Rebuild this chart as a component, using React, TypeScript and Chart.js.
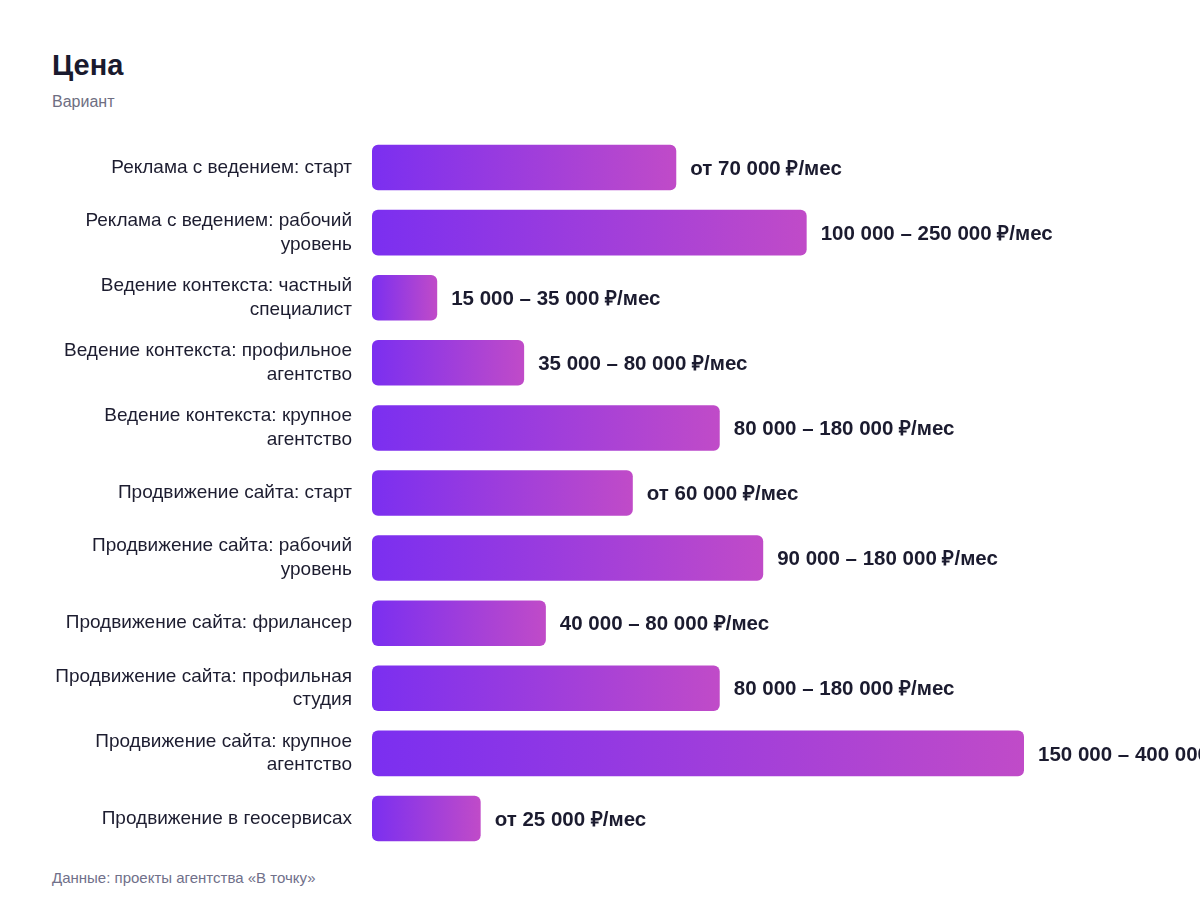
import React, { useEffect, useRef } from "react";
import { Chart, registerables } from "chart.js";

Chart.register(...registerables);

const categories: (string | string[])[] = [
  "Реклама с ведением: старт",
  ["Реклама с ведением: рабочий", "уровень"],
  ["Ведение контекста: частный", "специалист"],
  ["Ведение контекста: профильное", "агентство"],
  ["Ведение контекста: крупное", "агентство"],
  "Продвижение сайта: старт",
  ["Продвижение сайта: рабочий", "уровень"],
  "Продвижение сайта: фрилансер",
  ["Продвижение сайта: профильная", "студия"],
  ["Продвижение сайта: крупное", "агентство"],
  "Продвижение в геосервисах",
];

const values: number[] = [70000, 100000, 15000, 35000, 80000, 60000, 90000, 40000, 80000, 150000, 25000];

const valueLabels: string[] = [
  "от 70 000 ₽/мес",
  "100 000 – 250 000 ₽/мес",
  "15 000 – 35 000 ₽/мес",
  "35 000 – 80 000 ₽/мес",
  "80 000 – 180 000 ₽/мес",
  "от 60 000 ₽/мес",
  "90 000 – 180 000 ₽/мес",
  "40 000 – 80 000 ₽/мес",
  "80 000 – 180 000 ₽/мес",
  "150 000 – 400 000 ₽/мес",
  "от 25 000 ₽/мес",
];

const FONT = "'Liberation Sans', Arial, Helvetica, sans-serif";

const valueLabelPlugin = {
  id: "valueLabels",
  afterDatasetsDraw(chart: any) {
    const ctx = chart.ctx;
    const meta = chart.getDatasetMeta(0);
    ctx.save();
    ctx.font = `bold 20.5px ${FONT}`;
    ctx.fillStyle = "#1b1b2f";
    ctx.textAlign = "left";
    ctx.textBaseline = "middle";
    meta.data.forEach((bar: any, i: number) => {
      ctx.fillText(valueLabels[i], bar.x + 14, bar.y + 1.5);
    });
    ctx.restore();
  },
};

export default function App() {
  const ref = useRef<HTMLCanvasElement>(null);
  useEffect(() => {
    if (!ref.current) return;
    const chart = new Chart(ref.current, {
      type: "bar",
      data: {
        labels: categories,
        datasets: [
          {
            data: values,
            backgroundColor: (c: any) => {
              const ch = c.chart;
              const sx = ch.scales?.x;
              if (!sx || c.raw == null) return "#8a3ae6";
              const x0 = sx.getPixelForValue(0);
              const x1 = sx.getPixelForValue(c.raw);
              if (!isFinite(x0) || !isFinite(x1) || x1 <= x0) return "#8a3ae6";
              const g = ch.ctx.createLinearGradient(x0, 0, x1, 0);
              g.addColorStop(0, "#7b2ff0");
              g.addColorStop(1, "#c04bc8");
              return g;
            },
            borderRadius: 6,
            borderSkipped: false,
            barPercentage: 0.7,
            categoryPercentage: 1,
          },
        ],
      },
      options: {
        indexAxis: "y",
        animation: false,
        responsive: false,
        maintainAspectRatio: false,
        layout: { padding: { left: 0, right: 176, top: 0, bottom: 0 } },
        plugins: { legend: { display: false }, tooltip: { enabled: false } },
        scales: {
          x: { display: false, min: 0, max: 150000 },
          y: {
            grid: { display: false, drawTicks: false },
            border: { display: false },
            afterFit: (s: any) => {
              s.width = 372;
              s.paddingTop = 0;
              s.paddingBottom = 0;
            },
            ticks: {
              padding: 20,
              color: "#1d1d30",
              font: { family: FONT, size: 19, lineHeight: 1.25 },
            },
          },
        },
      },
      plugins: [valueLabelPlugin],
    });
    return () => chart.destroy();
  }, []);

  return (
    <div style={{ position: "fixed", left: 0, top: 0, width: 1200, height: 904, background: "#fff", fontFamily: FONT, overflow: "hidden" }}>
      <div style={{ position: "absolute", left: 52, top: 47, fontSize: 29, fontWeight: 700, color: "#1a1a2e", lineHeight: "36px" }}>Цена</div>
      <div style={{ position: "absolute", left: 52, top: 93, fontSize: 16, color: "#6e6e82", lineHeight: "18px" }}>Вариант</div>
      <canvas ref={ref} width={1200} height={716} style={{ position: "absolute", left: 0, top: 135, width: 1200, height: 716 }} />
      <div style={{ position: "absolute", left: 52, top: 869, fontSize: 15, color: "#70708a", lineHeight: "18px" }}>Данные: проекты агентства «В точку»</div>
    </div>
  );
}
